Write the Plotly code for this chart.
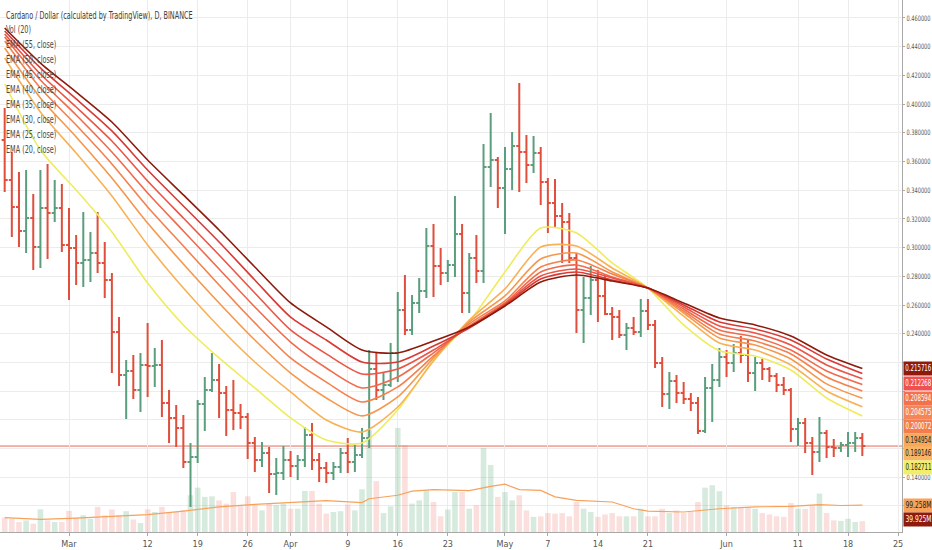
import plotly.graph_objects as go
import pandas as pd

# ---------------- data ----------------
start_date = "2018-02-20"
n_days = 121

opens = [0.3750, 0.3471, 0.3283, 0.3116, 0.3206, 0.3004, 0.3276, 0.3241, 0.3276, 0.3018,
         0.2997, 0.2893, 0.2914, 0.2962, 0.2893, 0.2774, 0.2412, 0.2112, 0.2140, 0.2008,
         0.2182, 0.2175, 0.2182, 0.1917, 0.1813, 0.1743, 0.1506, 0.1541, 0.1910, 0.2008,
         0.2077, 0.1987, 0.1868, 0.1847, 0.1820, 0.1638, 0.1520, 0.1569, 0.1422, 0.1429,
         0.1520, 0.1478, 0.1520, 0.1694, 0.1520, 0.1464, 0.1429, 0.1471, 0.1569, 0.1506,
         0.1555, 0.1673, 0.2154, 0.2008, 0.2043, 0.2266, 0.2565, 0.2426, 0.2614, 0.2698,
         0.3011, 0.2872, 0.2823, 0.2879, 0.3095, 0.2684, 0.2928, 0.2837, 0.3562, 0.3610,
         0.3415, 0.3548, 0.3708, 0.3666, 0.3576, 0.3659, 0.3457, 0.3311, 0.3220, 0.3178,
         0.2928, 0.2565, 0.2649, 0.2774, 0.2663, 0.2537, 0.2516, 0.2391, 0.2440, 0.2412,
         0.2558, 0.2461, 0.2196, 0.1980, 0.2070, 0.1987, 0.1945, 0.1917, 0.1722, 0.2022,
         0.2077, 0.2238, 0.2196, 0.2266, 0.2252, 0.2126, 0.2196, 0.2154, 0.2105, 0.2043,
         0.2008, 0.1736, 0.1778, 0.1638, 0.1576, 0.1708, 0.1610, 0.1604, 0.1624, 0.1638,
         0.1673]

highs = [0.3973, 0.3666, 0.3527, 0.3541, 0.3374, 0.3541, 0.3583, 0.3471, 0.3443, 0.3276,
         0.3088, 0.3248, 0.3109, 0.3248, 0.3039, 0.2823, 0.2516, 0.2217, 0.2252, 0.2266,
         0.2475, 0.2300, 0.2356, 0.2008, 0.1903, 0.1833, 0.1638, 0.1938, 0.2098, 0.2266,
         0.2189, 0.2036, 0.2077, 0.1910, 0.1847, 0.1680, 0.1645, 0.1610, 0.1534, 0.1617,
         0.1583, 0.1555, 0.1750, 0.1778, 0.1569, 0.1506, 0.1506, 0.1604, 0.1673, 0.1624,
         0.1743, 0.2286, 0.2272, 0.2126, 0.2335, 0.2691, 0.2809, 0.2670, 0.2788, 0.3137,
         0.3164, 0.2997, 0.2914, 0.3360, 0.3164, 0.2962, 0.3088, 0.3722, 0.3938, 0.3631,
         0.3701, 0.3806, 0.4147, 0.3785, 0.3778, 0.3701, 0.3485, 0.3478, 0.3311, 0.3241,
         0.2962, 0.2795, 0.2872, 0.2844, 0.2802, 0.2586, 0.2565, 0.2475, 0.2516, 0.2642,
         0.2642, 0.2495, 0.2238, 0.2133, 0.2112, 0.2063, 0.1987, 0.1959, 0.2098, 0.2189,
         0.2300, 0.2286, 0.2328, 0.2384, 0.2356, 0.2238, 0.2224, 0.2168, 0.2126, 0.2098,
         0.2022, 0.1813, 0.1813, 0.1680, 0.1820, 0.1729, 0.1666, 0.1645, 0.1715, 0.1715,
         0.1708]

lows = [0.3387, 0.3074, 0.3004, 0.2962, 0.2844, 0.2858, 0.2921, 0.3178, 0.2969, 0.2635,
        0.2739, 0.2725, 0.2760, 0.2823, 0.2649, 0.2126, 0.2036, 0.1806, 0.1945, 0.1854,
        0.1959, 0.2029, 0.1820, 0.1638, 0.1610, 0.1464, 0.1192, 0.1499, 0.1722, 0.1994,
        0.1813, 0.1687, 0.1729, 0.1736, 0.1527, 0.1436, 0.1471, 0.1290, 0.1276, 0.1381,
        0.1401, 0.1381, 0.1471, 0.1450, 0.1367, 0.1360, 0.1381, 0.1429, 0.1429, 0.1436,
        0.1534, 0.1604, 0.1938, 0.1938, 0.2029, 0.2063, 0.2391, 0.2391, 0.2544, 0.2649,
        0.2656, 0.2739, 0.2760, 0.2795, 0.2544, 0.2544, 0.2753, 0.2753, 0.3422, 0.3276,
        0.3095, 0.3401, 0.3387, 0.3450, 0.3520, 0.3297, 0.3102, 0.3137, 0.2893, 0.2893,
        0.2405, 0.2335, 0.2530, 0.2482, 0.2530, 0.2356, 0.2370, 0.2286, 0.2391, 0.2377,
        0.2426, 0.2161, 0.1889, 0.1875, 0.1917, 0.1910, 0.1861, 0.1701, 0.1708, 0.1785,
        0.2029, 0.2098, 0.2133, 0.2196, 0.2063, 0.2001, 0.2077, 0.2063, 0.1994, 0.1973,
        0.1645, 0.1617, 0.1569, 0.1415, 0.1506, 0.1534, 0.1541, 0.1576, 0.1541, 0.1576,
        0.1548]

closes = [0.3471, 0.3283, 0.3116, 0.3206, 0.3004, 0.3276, 0.3241, 0.3276, 0.3018, 0.2997,
          0.2893, 0.2914, 0.2962, 0.2893, 0.2774, 0.2412, 0.2112, 0.2140, 0.2008, 0.2182,
          0.2175, 0.2182, 0.1917, 0.1813, 0.1743, 0.1506, 0.1541, 0.1910, 0.2008, 0.2077,
          0.1987, 0.1868, 0.1847, 0.1820, 0.1638, 0.1520, 0.1569, 0.1422, 0.1429, 0.1520,
          0.1478, 0.1520, 0.1694, 0.1520, 0.1464, 0.1429, 0.1471, 0.1569, 0.1506, 0.1555,
          0.1673, 0.2154, 0.2008, 0.2043, 0.2266, 0.2565, 0.2426, 0.2614, 0.2698, 0.3011,
          0.2872, 0.2823, 0.2879, 0.3095, 0.2684, 0.2928, 0.2837, 0.3562, 0.3610, 0.3415,
          0.3548, 0.3708, 0.3666, 0.3576, 0.3659, 0.3457, 0.3311, 0.3220, 0.3178, 0.2928,
          0.2565, 0.2649, 0.2774, 0.2663, 0.2537, 0.2516, 0.2391, 0.2440, 0.2412, 0.2558,
          0.2461, 0.2196, 0.1980, 0.2070, 0.1987, 0.1945, 0.1917, 0.1722, 0.2022, 0.2077,
          0.2238, 0.2196, 0.2266, 0.2252, 0.2126, 0.2196, 0.2154, 0.2105, 0.2043, 0.2008,
          0.1736, 0.1778, 0.1638, 0.1576, 0.1708, 0.1610, 0.1604, 0.1624, 0.1638, 0.1673,
          0.1617]

# volume in millions
volume = [53, 49, 37, 43, 31, 84, 43, 37, 37, 78,
          53, 62, 49, 93, 62, 83, 62, 77, 46, 33,
          84, 74, 93, 74, 74, 80, 136, 164, 130, 132,
          117, 105, 148, 99, 132, 99, 80, 105, 99, 105,
          86, 86, 152, 152, 105, 68, 74, 77, 102, 80,
          158, 377, 188, 70, 95, 385, 322, 105, 117, 154,
          111, 58, 83, 148, 148, 86, 99, 311, 248, 130,
          148, 117, 136, 80, 56, 58, 70, 68, 70, 58,
          111, 86, 74, 56, 65, 70, 58, 58, 58, 86,
          58, 58, 86, 70, 80, 70, 74, 111, 164, 173,
          151, 99, 93, 93, 93, 86, 70, 65, 58, 56,
          107, 86, 86, 99, 142, 70, 43, 41, 49, 37, 39.925]

# Vol (20) moving average, read at these day offsets
vol_ma_days = [0, 5, 10, 15, 20, 25, 30, 35, 40, 45, 50, 51, 55, 57, 60, 65, 68, 70, 72,
               75, 77, 80, 85, 88, 90, 95, 100, 105, 110, 114, 117, 120]
vol_ma = [53, 47, 51, 57, 64, 77, 93, 102, 110, 116, 109, 123, 136, 151, 157, 153, 169, 177, 157,
          154, 130, 117, 111, 86, 77, 74, 86, 93, 95, 101, 98, 99.258]

# EMA lines read every 5 days (Feb 20 .. Jun 20)
ema_step_days = 5
ema55 = [0.4530, 0.4286, 0.4084, 0.3875, 0.3610, 0.3367, 0.3123, 0.2865, 0.2614, 0.2447, 0.2286, 0.2266,
         0.2349, 0.2447, 0.2593, 0.2760, 0.2809, 0.2767, 0.2718, 0.2614, 0.2509, 0.2461, 0.2384, 0.2252, 0.215716]
ema50 = [0.4509, 0.4252, 0.4036, 0.3813, 0.3541, 0.3290, 0.3039, 0.2774, 0.2516, 0.2356, 0.2203, 0.2203,
         0.2314, 0.2440, 0.2600, 0.2781, 0.2830, 0.2774, 0.2718, 0.2600, 0.2482, 0.2433, 0.2356, 0.2224, 0.212268]
ema45 = [0.4489, 0.4210, 0.3980, 0.3743, 0.3464, 0.3206, 0.2948, 0.2684, 0.2426, 0.2259, 0.2119, 0.2154,
         0.2286, 0.2447, 0.2607, 0.2802, 0.2851, 0.2788, 0.2718, 0.2586, 0.2454, 0.2405, 0.2321, 0.2182, 0.208594]
ema40 = [0.4468, 0.4168, 0.3924, 0.3666, 0.3381, 0.3116, 0.2851, 0.2586, 0.2342, 0.2161, 0.2022, 0.2098,
         0.2266, 0.2454, 0.2614, 0.2830, 0.2879, 0.2795, 0.2718, 0.2572, 0.2426, 0.2377, 0.2286, 0.2140, 0.204575]
ema35 = [0.4440, 0.4112, 0.3854, 0.3583, 0.3283, 0.3011, 0.2739, 0.2475, 0.2231, 0.2063, 0.1924, 0.2029,
         0.2245, 0.2468, 0.2628, 0.2865, 0.2914, 0.2816, 0.2718, 0.2558, 0.2398, 0.2349, 0.2259, 0.2098, 0.200072]
ema30 = [0.4391, 0.4043, 0.3771, 0.3485, 0.3171, 0.2886, 0.2614, 0.2356, 0.2126, 0.1952, 0.1827, 0.1959,
         0.2231, 0.2482, 0.2663, 0.2921, 0.2962, 0.2830, 0.2718, 0.2544, 0.2370, 0.2321, 0.2224, 0.2050, 0.194954]
ema25 = [0.4321, 0.3945, 0.3659, 0.3360, 0.3018, 0.2718, 0.2447, 0.2203, 0.1994, 0.1799, 0.1715, 0.1889,
         0.2210, 0.2495, 0.2712, 0.3004, 0.3011, 0.2858, 0.2718, 0.2523, 0.2335, 0.2286, 0.2182, 0.2001, 0.189146]
ema20 = [0.4140, 0.3680, 0.3401, 0.3109, 0.2753, 0.2461, 0.2231, 0.2022, 0.1813, 0.1659, 0.1638, 0.1868,
         0.2217, 0.2482, 0.2830, 0.3137, 0.3102, 0.2893, 0.2718, 0.2461, 0.2281, 0.2245, 0.2147, 0.1952, 0.182711]

tick_dates = ["2018-03-01", "2018-03-12", "2018-03-19", "2018-03-26", "2018-04-01", "2018-04-09",
              "2018-04-16", "2018-04-23", "2018-05-01", "2018-05-07", "2018-05-14", "2018-05-21",
              "2018-06-01", "2018-06-11", "2018-06-18", "2018-06-25"]
tick_text = ["Mar", "12", "19", "26", "Apr", "9", "16", "23", "May", "7", "14", "21",
             "Jun", "11", "18", "25"]

# price-axis ticks; the ones hidden under the value labels in the reference are blank
price_ticks = [0.12, 0.14, 0.16, 0.18, 0.20, 0.22, 0.24, 0.26, 0.28, 0.30,
               0.32, 0.34, 0.36, 0.38, 0.40, 0.42, 0.44, 0.46]
price_tick_text = ["", "0.140000", "", "", "", "", "0.240000", "0.260000", "0.280000", "0.300000",
                   "0.320000", "0.340000", "0.360000", "0.380000", "0.400000", "0.420000",
                   "0.440000", "0.460000"]

title_text = "Cardano / Dollar (calculated by TradingView), D, BINANCE"
legend_names = ["Vol (20)", "EMA (55, close)", "EMA (50, close)", "EMA (45, close)", "EMA (40, close)",
                "EMA (35, close)", "EMA (30, close)", "EMA (25, close)", "EMA (20, close)"]

# ---------------- styling ----------------
FONT = "Liberation Sans Narrow, DejaVu Sans Condensed, Arial Narrow, Liberation Sans, sans-serif"
UP = "#5b9e7e"
DOWN = "#df4f3b"
VOL_UP = "rgba(91,170,120,0.25)"
VOL_DOWN = "rgba(230,110,100,0.22)"
EMA_STYLE = [  # (values, colour)
    (ema20, "#efec5c"),
    (ema25, "#f8b155"),
    (ema30, "#f5974c"),
    (ema35, "#f3804d"),
    (ema40, "#f06a4c"),
    (ema45, "#ea5546"),
    (ema50, "#d93a35"),
    (ema55, "#8e1a0c"),
]

PLOT_H = 532.0
PLOT_W = 902.0

dates = pd.date_range(start_date, periods=n_days, freq="D")
ema_dates = pd.date_range(start_date, periods=len(ema55), freq=f"{ema_step_days}D")
vma_dates = [dates[d] for d in vol_ma_days]
vol_colors = [VOL_UP if c >= o else VOL_DOWN for o, c in zip(opens, closes)]

fig = go.Figure()

fig.add_trace(go.Bar(x=dates, y=volume, marker=dict(color=vol_colors, line=dict(width=0)),
                     yaxis="y", hoverinfo="skip"))
fig.add_trace(go.Scatter(x=vma_dates, y=vol_ma, mode="lines", yaxis="y",
                         line=dict(color="#f7a25a", width=1.2)))

for vals, col in EMA_STYLE:
    fig.add_trace(go.Scatter(x=ema_dates, y=vals, mode="lines", yaxis="y2",
                             line=dict(color=col, width=1.6, shape="spline", smoothing=0.7)))

fig.add_trace(go.Ohlc(x=dates, open=opens, high=highs, low=lows, close=closes, yaxis="y2",
                      increasing=dict(line=dict(color=UP, width=2)),
                      decreasing=dict(line=dict(color=DOWN, width=2)),
                      tickwidth=0.42))

# last-price line
fig.add_shape(type="line", xref="paper", x0=0, x1=1, yref="y2", y0=closes[-1], y1=closes[-1],
              line=dict(color="rgba(224,80,60,0.85)", width=1), layer="below")

annotations = []
annotations.append(dict(text=title_text, xref="paper", yref="paper", x=4 / PLOT_W, y=1 - 15 / PLOT_H,
                        xanchor="left", yanchor="middle", showarrow=False, align="left",
                        font=dict(family=FONT, size=10, color="#3c3c3c")))
for i, name in enumerate(legend_names):
    ypx = 30 + i * 14.9
    annotations.append(dict(text=name, xref="paper", yref="paper", x=4 / PLOT_W, y=1 - ypx / PLOT_H,
                            xanchor="left", yanchor="middle", showarrow=False, align="left",
                            font=dict(family=FONT, size=10, color="#4a4a4a")))

# right-side value labels (stacked like the reference)
value_labels = [
    ("0.215716", 368, "#8e1a0c", "white"),
    ("0.212268", 383, "#ef5150", "white"),
    ("0.208594", 398, "#f2724e", "white"),
    ("0.204575", 412, "#f4865c", "white"),
    ("0.200072", 426, "#f37d4c", "white"),
    ("0.194954", 440, "#f7a85c", "#222"),
    ("0.189146", 453, "#f8b664", "#222"),
    ("0.182711", 467, "#f1ef6a", "#222"),
    ("99.258M", 505, "#f7a25a", "#222"),
    ("39.925M", 519, "#8e1a0c", "white"),
]
for txt, ypx, bg, fc in value_labels:
    annotations.append(dict(text=txt, xref="paper", yref="paper", x=1, y=1 - ypx / PLOT_H,
                            xanchor="left", yanchor="middle", xshift=1, showarrow=False,
                            bgcolor=bg, width=29, height=13, borderpad=0, align="center",
                            font=dict(family=FONT, size=8, color=fc)))

fig.update_layout(
    width=932, height=550,
    margin=dict(l=0, r=30, t=0, b=18, autoexpand=False),
    paper_bgcolor="white", plot_bgcolor="white",
    showlegend=False, bargap=0.22,
    annotations=annotations,
    font=dict(family=FONT, size=9, color="#555"),
    xaxis=dict(type="date", range=["2018-02-19 08:18", "2018-06-25 13:12"],
               tickvals=tick_dates, ticktext=tick_text, automargin=False,
               showgrid=True, gridcolor="#ececec", gridwidth=1,
               showline=True, linecolor="#a8a8a8", linewidth=1,
               ticks="outside", ticklen=3, tickcolor="#a8a8a8",
               tickfont=dict(family=FONT, size=9, color="#555"),
               rangeslider=dict(visible=False), zeroline=False, fixedrange=True),
    yaxis=dict(range=[0, 1968], visible=False, fixedrange=True, automargin=False),
    yaxis2=dict(overlaying="y", side="right", range=[0.10181, 0.47254],
                tickvals=price_ticks, ticktext=price_tick_text, automargin=False,
                showgrid=True, gridcolor="#ececec", gridwidth=1,
                showline=True, linecolor="#a8a8a8", linewidth=1,
                ticks="outside", ticklen=2, tickcolor="#a8a8a8",
                tickfont=dict(family=FONT, size=7.5, color="#555"),
                zeroline=False, fixedrange=True),
)

post_js = """
document.documentElement.style.margin='0';
document.body.style.margin='0';
document.body.style.padding='0';
document.body.style.overflow='hidden';
function squeeze(t, target) {
  var L = t.getComputedTextLength();
  if (!(L > target)) return;
  var anchor = t.getAttribute('text-anchor') || 'start';
  t.setAttribute('textLength', target.toFixed(1));
  t.setAttribute('lengthAdjust', 'spacingAndGlyphs');
  var x = parseFloat(t.getAttribute('x'));
  if (!isNaN(x) && anchor === 'middle') {
    t.setAttribute('x', (x - (L - target) / 2).toFixed(1));
  }
}
document.querySelectorAll('text.annotation-text').forEach(function(t){
  var s = t.textContent || '';
  if (s.indexOf('EMA') === 0 || s.indexOf('Vol') === 0 || s.indexOf('Cardano') === 0) {
    squeeze(t, t.getComputedTextLength() * 0.72);
  } else {
    var L = t.getComputedTextLength();
    if (L > 26) {
      t.setAttribute('textLength', '26');
      t.setAttribute('lengthAdjust', 'spacingAndGlyphs');
    }
  }
});
document.querySelectorAll('g.y2tick text').forEach(function(t){
  var L = t.getComputedTextLength();
  if (L > 24) {
    t.setAttribute('textLength', '24');
    t.setAttribute('lengthAdjust', 'spacingAndGlyphs');
  }
});
"""

fig.write_html("out.html", config={"responsive": False, "displayModeBar": False},
               default_width="932px", default_height="550px", post_script=post_js)
